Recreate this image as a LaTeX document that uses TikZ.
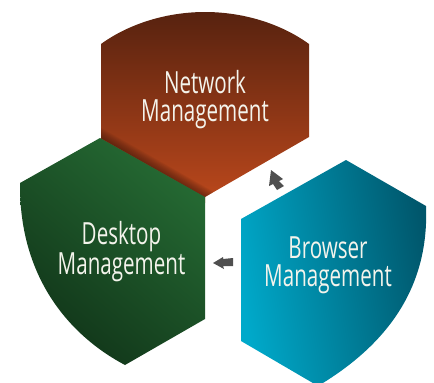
\documentclass[tikz,border=0pt]{standalone}
\usepackage{fontspec}
\setmainfont{Open Sans}[FakeStretch=0.675]
\usetikzlibrary{calc}
\definecolor{netTop}{HTML}{57220F}
\definecolor{netBot}{HTML}{BC481C}
\definecolor{netEdge}{HTML}{3A170C}
\definecolor{deskHi}{HTML}{256A33}
\definecolor{deskLo}{HTML}{113519}
\definecolor{browL}{HTML}{00A9CA}
\definecolor{browR}{HTML}{00566B}
\definecolor{arrowGrey}{HTML}{4F4F4F}
\definecolor{labelInk}{HTML}{F4F4EC}
\tikzset{
  label text/.style={text=labelInk,align=center,font=\fontsize{30.5}{28}\selectfont,inner sep=0pt},
  flow arrow/.style={fill=arrowGrey,draw=none},
}
\begin{document}
\begin{tikzpicture}[x=1pt,y=-1pt]
\useasboundingbox (0,0) rectangle (434,383);
% Network
\begin{scope}
\clip (101,44) .. controls (130,23) and (168,12) .. (205,12) .. controls (242,12) and (280,23) .. (309,44)
  -- (309,137) -- (205,197) -- (205,203) -- (101,143) -- cycle;
\shade[top color=netTop,bottom color=netBot] (95,12) rectangle (315,203);
\foreach \d in {1,...,9}{
  \fill[netEdge,opacity=0.08] (90,132) -- (215,203) -- ($(215,203)+(0.496*\d,-0.868*\d)$) -- ($(90,132)+(0.496*\d,-0.868*\d)$) -- cycle;
}
\end{scope}
% Desktop
\begin{scope}
\clip (100,138) -- (205,197) -- (205,319) -- (125,365)
  .. controls (72,337) and (19,280) .. (20,183) -- cycle;
\shade[top color=deskHi,bottom color=deskLo,shading angle=-40] (20,138) rectangle (205,365);
\end{scope}
% Browser
\begin{scope}
\clip (346,160) -- (426,206) .. controls (429,280) and (395,340) .. (318,386)
  -- (241,341) -- (241,219) -- cycle;
\shade[left color=browL,right color=browR,shading angle=100] (241,160) rectangle (428,386);
\end{scope}
% Flow arrows
\fill[flow arrow] (271,170) -- (283,179) -- (279,181) -- (284,186) -- (277,190) -- (273,184) -- (269,186) -- cycle;
\fill[flow arrow] (213,263) -- (223,257) -- (223,259) -- (233,258) -- (233,266) -- (223,266) -- (224,269) -- cycle;
% Labels
\node[label text] (network) at (205,99.5) {Network\\Management};
\node[label text] (desktop) at (121.5,252) {Desktop\\Management};
\node[label text] (browser) at (328,265) {Browser\\Management};
\end{tikzpicture}
\end{document}
